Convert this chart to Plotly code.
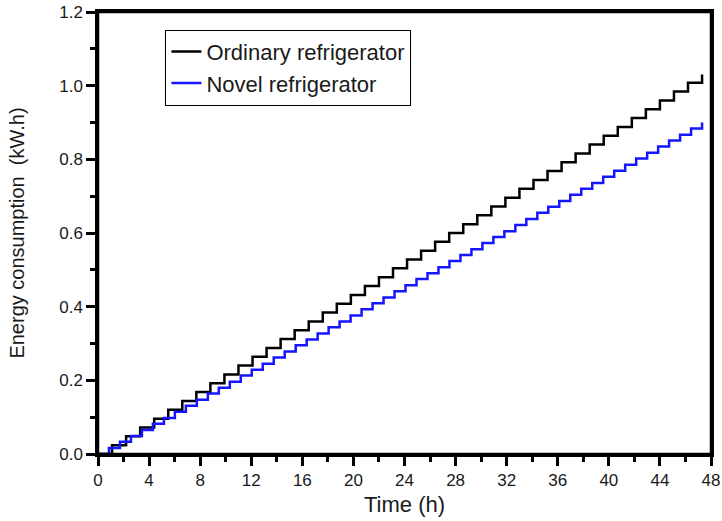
import plotly.graph_objects as go

# Ordinary refrigerator: cumulative energy at compressor cycle boundaries
ordinary_time = [0, 1.1, 2.2, 3.3, 4.4, 5.5, 6.6, 7.7, 8.8, 9.9, 11.0, 12.1, 13.2, 14.3,
                 15.4, 16.5, 17.6, 18.7, 19.8, 20.9, 22.0, 23.1, 24.2, 25.3, 26.4, 27.5,
                 28.6, 29.7, 30.8, 31.9, 33.0, 34.1, 35.2, 36.3, 37.4, 38.5, 39.6, 40.7,
                 41.8, 42.9, 44.0, 45.1, 46.2, 47.3]
ordinary_energy = [0, 0.024, 0.048, 0.072, 0.096, 0.120, 0.144, 0.168, 0.192, 0.216, 0.240,
                   0.264, 0.288, 0.312, 0.336, 0.360, 0.384, 0.408, 0.432, 0.456, 0.480,
                   0.504, 0.528, 0.552, 0.576, 0.600, 0.624, 0.648, 0.672, 0.696, 0.720,
                   0.744, 0.768, 0.792, 0.816, 0.840, 0.864, 0.888, 0.912, 0.936, 0.960,
                   0.984, 1.008, 1.030]

# Novel refrigerator
novel_time = [0, 0.86, 1.72, 2.58, 3.44, 4.30, 5.16, 6.02, 6.88, 7.74, 8.60, 9.46, 10.32,
              11.18, 12.04, 12.90, 13.76, 14.62, 15.48, 16.34, 17.20, 18.06, 18.92, 19.78,
              20.64, 21.50, 22.36, 23.22, 24.08, 24.94, 25.80, 26.66, 27.52, 28.38, 29.24,
              30.10, 30.96, 31.82, 32.68, 33.54, 34.40, 35.26, 36.12, 36.98, 37.84, 38.70,
              39.56, 40.42, 41.28, 42.14, 43.00, 43.86, 44.72, 45.58, 46.44, 47.30]
novel_energy = [0, 0.016, 0.033, 0.049, 0.065, 0.082, 0.098, 0.115, 0.131, 0.147, 0.164,
                0.180, 0.196, 0.213, 0.229, 0.245, 0.262, 0.278, 0.295, 0.311, 0.327,
                0.344, 0.360, 0.376, 0.393, 0.409, 0.425, 0.442, 0.458, 0.475, 0.491,
                0.507, 0.524, 0.540, 0.556, 0.573, 0.589, 0.605, 0.622, 0.638, 0.655,
                0.671, 0.687, 0.704, 0.720, 0.736, 0.753, 0.769, 0.785, 0.802, 0.818,
                0.835, 0.851, 0.867, 0.884, 0.900]

x_ticks = [0, 4, 8, 12, 16, 20, 24, 28, 32, 36, 40, 44, 48]
y_ticks = [0.0, 0.2, 0.4, 0.6, 0.8, 1.0, 1.2]

fig = go.Figure()
fig.add_trace(go.Scatter(x=ordinary_time, y=ordinary_energy, mode="lines",
                         name="Ordinary refrigerator",
                         line=dict(color="black", width=2.5, shape="hv")))
fig.add_trace(go.Scatter(x=novel_time, y=novel_energy, mode="lines",
                         name="Novel refrigerator",
                         line=dict(color="#1515ff", width=2.5, shape="hv")))

font_family = "Liberation Sans, Arial, sans-serif"
text_color = "#1a1a1a"
axis_common = dict(showline=True, linecolor="black", linewidth=2.5, mirror=True,
                   ticks="outside", ticklen=9, tickwidth=2.5, tickcolor="black",
                   showgrid=False, zeroline=False,
                   tickfont=dict(family=font_family, size=17, color=text_color))

fig.update_layout(
    width=722, height=521,
    margin=dict(l=98, r=11, t=12, b=67),
    plot_bgcolor="white", paper_bgcolor="white",
    font=dict(family=font_family, color=text_color),
    showlegend=True,
    legend=dict(x=0.11, y=0.96, xanchor="left", yanchor="top",
                bordercolor="black", borderwidth=1, bgcolor="white",
                font=dict(family=font_family, size=22, color=text_color),
                tracegroupgap=0),
    xaxis=dict(range=[0, 48], tickvals=x_ticks, automargin=False,
               title=dict(text="Time (h)", font=dict(family=font_family, size=22), standoff=8),
               minor=dict(ticks="outside", ticklen=5, tickwidth=2.5, tickcolor="black",
                          dtick=2, tick0=0, showgrid=False),
               **axis_common),
    yaxis=dict(range=[0, 1.2], tickvals=y_ticks, tickformat=".1f", automargin=False,
               title=dict(text="Energy consumption  (kW.h)",
                          font=dict(family=font_family, size=20), standoff=30),
               minor=dict(ticks="outside", ticklen=5, tickwidth=2.5, tickcolor="black",
                          dtick=0.1, tick0=0, showgrid=False),
               **axis_common),
    shapes=[dict(type="rect", xref="paper", yref="paper", x0=0, y0=0, x1=1, y1=1,
                 line=dict(color="black", width=2.5), layer="above")],
)

fig.write_html("out.html")
